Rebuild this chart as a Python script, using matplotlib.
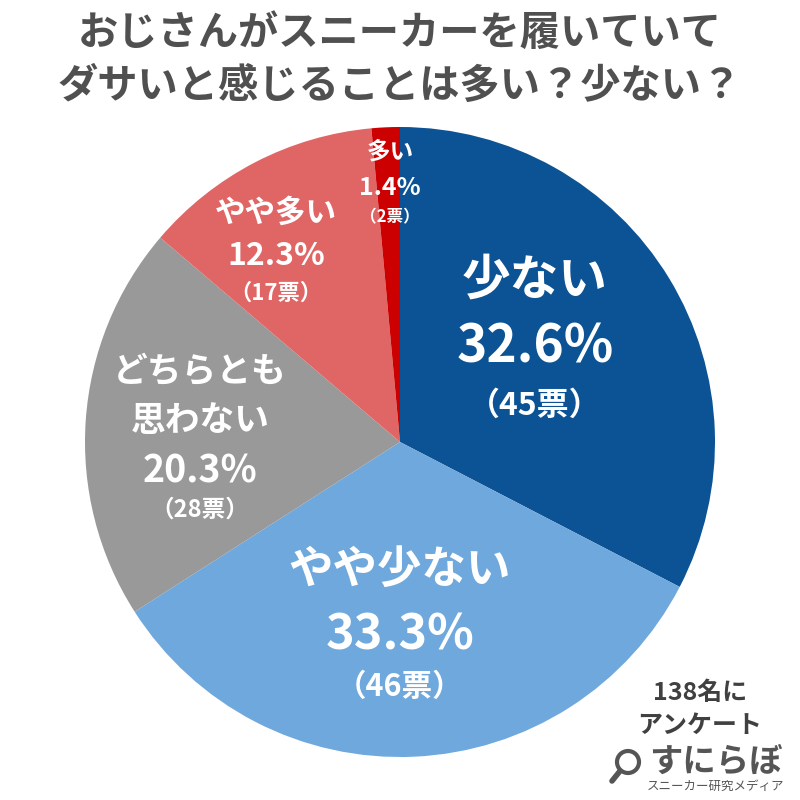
import matplotlib
matplotlib.use("Agg")
import matplotlib.pyplot as plt
from matplotlib.patches import Circle

plt.rcParams['font.family'] = ['Noto Sans CJK JP', 'DejaVu Sans']

title_lines = ["おじさんがスニーカーを履いていて", "ダサいと感じることは多い？少ない？"]
categories = ["少ない", "やや少ない", "どちらとも\n思わない", "やや多い", "多い"]
votes = [45, 46, 28, 17, 2]
percents = ["32.6%", "33.3%", "20.3%", "12.3%", "1.4%"]
colors = ["#0B5394", "#6FA8DC", "#999999", "#E06666", "#CC0000"]
total_note = ["138名に", "アンケート"]

H = 800  # pixel-ish coordinate system, y measured from top


def Y(py):
    return H - py


fig = plt.figure(figsize=(8, 8), dpi=100)
ax = fig.add_axes([0, 0, 1, 1])

ax.pie(votes, colors=colors, startangle=90, counterclock=False,
       center=(400, Y(442)), radius=315, frame=True,
       wedgeprops=dict(linewidth=0))
ax.set_xlim(0, 800)
ax.set_ylim(0, 800)
ax.set_aspect('equal')
ax.axis('off')

title_color = "#505050"
ax.text(400, Y(33), title_lines[0], ha='center', va='center', fontsize=29,
        fontweight='bold', color=title_color)
ax.text(400, Y(86), title_lines[1], ha='center', va='center', fontsize=29,
        fontweight='bold', color=title_color)

# label layout: (x, y of name, y of percent, y of votes, sizes)
label_pos = [
    (535, 280, 347, 406, 35, 37, 23),
    (400, 570, 635, 687, 32, 35, 22),
    (200, 396, 471, 510, 25, 27, 17),
    (276, 213, 256, 293, 22, 23, 16),
    (390, 152, 188, 217, 17, 18, 12),
]
for i, (x, yn, yp, yv, sn, sp, sv) in enumerate(label_pos):
    ax.text(x, Y(yn), categories[i], ha='center', va='center', fontsize=sn,
            fontweight='bold', color='white', linespacing=1.5)
    ax.text(x, Y(yp), percents[i], ha='center', va='center', fontsize=sp,
            fontweight='bold', color='white')
    ax.text(x, Y(yv), "（" + str(votes[i]) + "票）", ha='center', va='center',
            fontsize=sv, fontweight='bold', color='white')

# respondent note
note_color = "#404040"
ax.text(700, Y(693), total_note[0], ha='center', va='center', fontsize=18,
        fontweight='bold', color=note_color)
ax.text(700, Y(726), total_note[1], ha='center', va='center', fontsize=18,
        fontweight='bold', color=note_color)

# small logo
logo_color = "#555555"
ax.add_patch(Circle((628, Y(762)), 11, fill=False, lw=3, color=logo_color))
ax.plot([620, 612], [Y(771), Y(781)], color=logo_color, lw=4,
        solid_capstyle='round')
ax.text(716, Y(762), "すにらぼ", ha='center', va='center', fontsize=24,
        fontweight='bold', color=logo_color)
ax.text(715, Y(786), "スニーカー研究メディア", ha='center', va='center',
        fontsize=9, color=logo_color)

fig.savefig("out.png", dpi=100)
